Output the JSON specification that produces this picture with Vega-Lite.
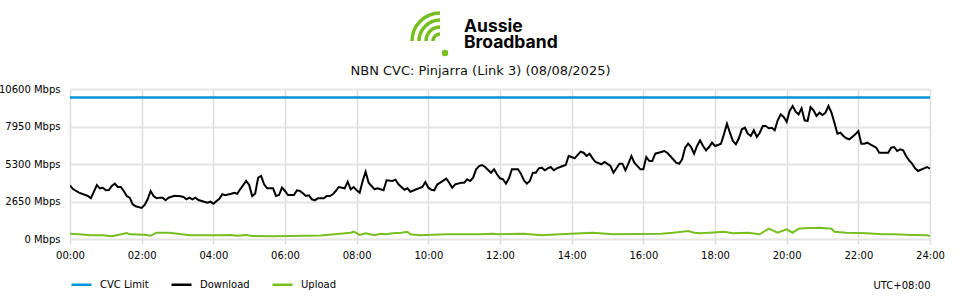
{
  "$schema": "https://vega.github.io/schema/vega-lite/v6.json",
  "width": 860,
  "height": 150,
  "autosize": {"type": "none"},
  "padding": {"left": 70, "top": 89, "right": 30, "bottom": 61},
  "background": "white",
  "config": {"view": {"stroke": null}, "font": "DejaVu Sans", "style": {"guide-label": {"lineHeight": 15.5}}},
  "data": {"values": [
    {"series":"CVC Limit","minute":0,"mbps":10000},{"series":"CVC Limit","minute":1440,"mbps":10000},
    {"series":"Download","minute":0,"mbps":3795},{"series":"Download","minute":5,"mbps":3533},{"series":"Download","minute":15,"mbps":3272},{"series":"Download","minute":30,"mbps":3039},{"series":"Download","minute":35,"mbps":2876},{"series":"Download","minute":45,"mbps":3816},{"series":"Download","minute":50,"mbps":3583},{"series":"Download","minute":55,"mbps":3625},{"series":"Download","minute":60,"mbps":3442},{"series":"Download","minute":65,"mbps":3463},{"series":"Download","minute":70,"mbps":3745},{"series":"Download","minute":75,"mbps":3908},{"series":"Download","minute":80,"mbps":3675},{"series":"Download","minute":85,"mbps":3675},{"series":"Download","minute":90,"mbps":3392},{"series":"Download","minute":95,"mbps":3039},{"series":"Download","minute":100,"mbps":2919},{"series":"Download","minute":105,"mbps":2452},{"series":"Download","minute":110,"mbps":2311},{"series":"Download","minute":120,"mbps":2191},{"series":"Download","minute":125,"mbps":2403},{"series":"Download","minute":130,"mbps":2806},{"series":"Download","minute":135,"mbps":3392},{"series":"Download","minute":140,"mbps":3039},{"series":"Download","minute":145,"mbps":2876},{"series":"Download","minute":150,"mbps":2919},{"series":"Download","minute":155,"mbps":2919},{"series":"Download","minute":160,"mbps":2735},{"series":"Download","minute":165,"mbps":2919},{"series":"Download","minute":175,"mbps":3060},{"series":"Download","minute":185,"mbps":3018},{"series":"Download","minute":190,"mbps":2968},{"series":"Download","minute":195,"mbps":2806},{"series":"Download","minute":200,"mbps":2919},{"series":"Download","minute":205,"mbps":2806},{"series":"Download","minute":210,"mbps":2919},{"series":"Download","minute":215,"mbps":2756},{"series":"Download","minute":230,"mbps":2565},{"series":"Download","minute":235,"mbps":2636},{"series":"Download","minute":240,"mbps":2495},{"series":"Download","minute":250,"mbps":2848},{"series":"Download","minute":255,"mbps":3159},{"series":"Download","minute":260,"mbps":3088},{"series":"Download","minute":270,"mbps":3201},{"series":"Download","minute":275,"mbps":3272},{"series":"Download","minute":280,"mbps":3201},{"series":"Download","minute":285,"mbps":3512},{"series":"Download","minute":295,"mbps":4099},{"series":"Download","minute":300,"mbps":3816},{"series":"Download","minute":305,"mbps":3039},{"series":"Download","minute":310,"mbps":3201},{"series":"Download","minute":315,"mbps":4332},{"series":"Download","minute":320,"mbps":4452},{"series":"Download","minute":325,"mbps":3866},{"series":"Download","minute":330,"mbps":3583},{"series":"Download","minute":340,"mbps":3583},{"series":"Download","minute":345,"mbps":3039},{"series":"Download","minute":350,"mbps":3109},{"series":"Download","minute":355,"mbps":3625},{"series":"Download","minute":360,"mbps":3392},{"series":"Download","minute":365,"mbps":3109},{"series":"Download","minute":375,"mbps":3109},{"series":"Download","minute":380,"mbps":3442},{"series":"Download","minute":385,"mbps":3392},{"series":"Download","minute":390,"mbps":3229},{"series":"Download","minute":395,"mbps":3039},{"series":"Download","minute":400,"mbps":3088},{"series":"Download","minute":405,"mbps":2806},{"series":"Download","minute":410,"mbps":2735},{"series":"Download","minute":415,"mbps":2876},{"series":"Download","minute":425,"mbps":2876},{"series":"Download","minute":430,"mbps":3039},{"series":"Download","minute":435,"mbps":3039},{"series":"Download","minute":440,"mbps":3159},{"series":"Download","minute":445,"mbps":3392},{"series":"Download","minute":450,"mbps":3675},{"series":"Download","minute":460,"mbps":3583},{"series":"Download","minute":465,"mbps":4049},{"series":"Download","minute":470,"mbps":3512},{"series":"Download","minute":475,"mbps":3675},{"series":"Download","minute":480,"mbps":3442},{"series":"Download","minute":485,"mbps":3272},{"series":"Download","minute":490,"mbps":4099},{"series":"Download","minute":495,"mbps":4756},{"series":"Download","minute":500,"mbps":3979},{"series":"Download","minute":510,"mbps":3512},{"series":"Download","minute":515,"mbps":3583},{"series":"Download","minute":520,"mbps":3512},{"series":"Download","minute":525,"mbps":3442},{"series":"Download","minute":530,"mbps":4148},{"series":"Download","minute":540,"mbps":4099},{"series":"Download","minute":545,"mbps":4191},{"series":"Download","minute":550,"mbps":3866},{"series":"Download","minute":560,"mbps":3484},{"series":"Download","minute":565,"mbps":3583},{"series":"Download","minute":570,"mbps":3343},{"series":"Download","minute":580,"mbps":3512},{"series":"Download","minute":590,"mbps":3675},{"series":"Download","minute":595,"mbps":4028},{"series":"Download","minute":600,"mbps":3625},{"series":"Download","minute":605,"mbps":3484},{"series":"Download","minute":610,"mbps":3442},{"series":"Download","minute":615,"mbps":3866},{"series":"Download","minute":620,"mbps":3979},{"series":"Download","minute":630,"mbps":4261},{"series":"Download","minute":635,"mbps":3979},{"series":"Download","minute":640,"mbps":3625},{"series":"Download","minute":645,"mbps":3866},{"series":"Download","minute":655,"mbps":3979},{"series":"Download","minute":660,"mbps":3979},{"series":"Download","minute":665,"mbps":4219},{"series":"Download","minute":670,"mbps":4099},{"series":"Download","minute":675,"mbps":4332},{"series":"Download","minute":680,"mbps":4925},{"series":"Download","minute":685,"mbps":5159},{"series":"Download","minute":690,"mbps":5229},{"series":"Download","minute":695,"mbps":5088},{"series":"Download","minute":705,"mbps":4685},{"series":"Download","minute":710,"mbps":4925},{"series":"Download","minute":715,"mbps":4572},{"series":"Download","minute":720,"mbps":4290},{"series":"Download","minute":725,"mbps":4219},{"series":"Download","minute":730,"mbps":3908},{"series":"Download","minute":735,"mbps":4290},{"series":"Download","minute":740,"mbps":4925},{"series":"Download","minute":750,"mbps":4925},{"series":"Download","minute":755,"mbps":4615},{"series":"Download","minute":760,"mbps":4148},{"series":"Download","minute":765,"mbps":3908},{"series":"Download","minute":770,"mbps":4099},{"series":"Download","minute":775,"mbps":4685},{"series":"Download","minute":780,"mbps":4685},{"series":"Download","minute":785,"mbps":4996},{"series":"Download","minute":790,"mbps":5039},{"series":"Download","minute":795,"mbps":4855},{"series":"Download","minute":800,"mbps":4996},{"series":"Download","minute":805,"mbps":5088},{"series":"Download","minute":810,"mbps":4855},{"series":"Download","minute":815,"mbps":4996},{"series":"Download","minute":825,"mbps":5159},{"series":"Download","minute":830,"mbps":5229},{"series":"Download","minute":835,"mbps":5865},{"series":"Download","minute":840,"mbps":5795},{"series":"Download","minute":845,"mbps":5703},{"series":"Download","minute":855,"mbps":6169},{"series":"Download","minute":860,"mbps":6098},{"series":"Download","minute":865,"mbps":5865},{"series":"Download","minute":870,"mbps":6028},{"series":"Download","minute":875,"mbps":5703},{"series":"Download","minute":880,"mbps":5441},{"series":"Download","minute":890,"mbps":5279},{"series":"Download","minute":895,"mbps":5441},{"series":"Download","minute":905,"mbps":5159},{"series":"Download","minute":910,"mbps":4685},{"series":"Download","minute":915,"mbps":4996},{"series":"Download","minute":920,"mbps":5321},{"series":"Download","minute":925,"mbps":5321},{"series":"Download","minute":930,"mbps":4855},{"series":"Download","minute":935,"mbps":5321},{"series":"Download","minute":940,"mbps":5865},{"series":"Download","minute":945,"mbps":5392},{"series":"Download","minute":955,"mbps":4925},{"series":"Download","minute":960,"mbps":4925},{"series":"Download","minute":965,"mbps":5795},{"series":"Download","minute":970,"mbps":5512},{"series":"Download","minute":975,"mbps":5512},{"series":"Download","minute":980,"mbps":6028},{"series":"Download","minute":990,"mbps":6148},{"series":"Download","minute":995,"mbps":6219},{"series":"Download","minute":1000,"mbps":6098},{"series":"Download","minute":1005,"mbps":5865},{"series":"Download","minute":1015,"mbps":5392},{"series":"Download","minute":1020,"mbps":5321},{"series":"Download","minute":1025,"mbps":5632},{"series":"Download","minute":1030,"mbps":6452},{"series":"Download","minute":1035,"mbps":6735},{"series":"Download","minute":1040,"mbps":6501},{"series":"Download","minute":1045,"mbps":6028},{"series":"Download","minute":1050,"mbps":6572},{"series":"Download","minute":1055,"mbps":6975},{"series":"Download","minute":1060,"mbps":6572},{"series":"Download","minute":1065,"mbps":6268},{"series":"Download","minute":1070,"mbps":6501},{"series":"Download","minute":1075,"mbps":6805},{"series":"Download","minute":1080,"mbps":6572},{"series":"Download","minute":1085,"mbps":6643},{"series":"Download","minute":1090,"mbps":6735},{"series":"Download","minute":1095,"mbps":7399},{"series":"Download","minute":1100,"mbps":8148},{"series":"Download","minute":1105,"mbps":7512},{"series":"Download","minute":1110,"mbps":6925},{"series":"Download","minute":1115,"mbps":6692},{"series":"Download","minute":1120,"mbps":7116},{"series":"Download","minute":1125,"mbps":7752},{"series":"Download","minute":1130,"mbps":7865},{"series":"Download","minute":1135,"mbps":7441},{"series":"Download","minute":1140,"mbps":7279},{"series":"Download","minute":1145,"mbps":7682},{"series":"Download","minute":1150,"mbps":7208},{"series":"Download","minute":1155,"mbps":7512},{"series":"Download","minute":1160,"mbps":7985},{"series":"Download","minute":1165,"mbps":7985},{"series":"Download","minute":1170,"mbps":7823},{"series":"Download","minute":1175,"mbps":7865},{"series":"Download","minute":1180,"mbps":7682},{"series":"Download","minute":1185,"mbps":8388},{"series":"Download","minute":1190,"mbps":8812},{"series":"Download","minute":1195,"mbps":8621},{"series":"Download","minute":1200,"mbps":8289},{"series":"Download","minute":1205,"mbps":9045},{"series":"Download","minute":1210,"mbps":9399},{"series":"Download","minute":1215,"mbps":8996},{"series":"Download","minute":1220,"mbps":8812},{"series":"Download","minute":1225,"mbps":9236},{"series":"Download","minute":1230,"mbps":8388},{"series":"Download","minute":1235,"mbps":8339},{"series":"Download","minute":1240,"mbps":9328},{"series":"Download","minute":1245,"mbps":9095},{"series":"Download","minute":1250,"mbps":8692},{"series":"Download","minute":1255,"mbps":8925},{"series":"Download","minute":1260,"mbps":8763},{"series":"Download","minute":1265,"mbps":8925},{"series":"Download","minute":1270,"mbps":9399},{"series":"Download","minute":1275,"mbps":8925},{"series":"Download","minute":1280,"mbps":8219},{"series":"Download","minute":1285,"mbps":7441},{"series":"Download","minute":1290,"mbps":7512},{"series":"Download","minute":1295,"mbps":7279},{"series":"Download","minute":1300,"mbps":7116},{"series":"Download","minute":1305,"mbps":7046},{"series":"Download","minute":1315,"mbps":7399},{"series":"Download","minute":1320,"mbps":7632},{"series":"Download","minute":1325,"mbps":6735},{"series":"Download","minute":1330,"mbps":6735},{"series":"Download","minute":1335,"mbps":6805},{"series":"Download","minute":1340,"mbps":6692},{"series":"Download","minute":1350,"mbps":6452},{"series":"Download","minute":1355,"mbps":6098},{"series":"Download","minute":1365,"mbps":6098},{"series":"Download","minute":1370,"mbps":6098},{"series":"Download","minute":1375,"mbps":6452},{"series":"Download","minute":1380,"mbps":6501},{"series":"Download","minute":1385,"mbps":6219},{"series":"Download","minute":1390,"mbps":6339},{"series":"Download","minute":1395,"mbps":6268},{"series":"Download","minute":1400,"mbps":5865},{"series":"Download","minute":1405,"mbps":5561},{"series":"Download","minute":1410,"mbps":5321},{"series":"Download","minute":1415,"mbps":4996},{"series":"Download","minute":1420,"mbps":4805},{"series":"Download","minute":1430,"mbps":4996},{"series":"Download","minute":1435,"mbps":5088},{"series":"Download","minute":1440,"mbps":4968},
    {"series":"Upload","minute":0,"mbps":375},{"series":"Upload","minute":15,"mbps":332},{"series":"Upload","minute":35,"mbps":261},{"series":"Upload","minute":55,"mbps":261},{"series":"Upload","minute":70,"mbps":191},{"series":"Upload","minute":80,"mbps":283},{"series":"Upload","minute":95,"mbps":424},{"series":"Upload","minute":100,"mbps":332},{"series":"Upload","minute":125,"mbps":304},{"series":"Upload","minute":135,"mbps":233},{"series":"Upload","minute":145,"mbps":445},{"series":"Upload","minute":165,"mbps":445},{"series":"Upload","minute":180,"mbps":375},{"series":"Upload","minute":200,"mbps":261},{"series":"Upload","minute":245,"mbps":261},{"series":"Upload","minute":270,"mbps":283},{"series":"Upload","minute":280,"mbps":233},{"series":"Upload","minute":295,"mbps":283},{"series":"Upload","minute":305,"mbps":212},{"series":"Upload","minute":340,"mbps":191},{"series":"Upload","minute":420,"mbps":240},{"series":"Upload","minute":470,"mbps":445},{"series":"Upload","minute":475,"mbps":516},{"series":"Upload","minute":485,"mbps":283},{"series":"Upload","minute":495,"mbps":403},{"series":"Upload","minute":510,"mbps":261},{"series":"Upload","minute":520,"mbps":375},{"series":"Upload","minute":530,"mbps":332},{"series":"Upload","minute":540,"mbps":403},{"series":"Upload","minute":555,"mbps":445},{"series":"Upload","minute":565,"mbps":516},{"series":"Upload","minute":570,"mbps":332},{"series":"Upload","minute":585,"mbps":261},{"series":"Upload","minute":630,"mbps":332},{"series":"Upload","minute":685,"mbps":332},{"series":"Upload","minute":710,"mbps":375},{"series":"Upload","minute":715,"mbps":332},{"series":"Upload","minute":760,"mbps":375},{"series":"Upload","minute":790,"mbps":261},{"series":"Upload","minute":820,"mbps":332},{"series":"Upload","minute":875,"mbps":445},{"series":"Upload","minute":910,"mbps":332},{"series":"Upload","minute":990,"mbps":375},{"series":"Upload","minute":1010,"mbps":445},{"series":"Upload","minute":1035,"mbps":565},{"series":"Upload","minute":1045,"mbps":445},{"series":"Upload","minute":1055,"mbps":403},{"series":"Upload","minute":1070,"mbps":445},{"series":"Upload","minute":1095,"mbps":516},{"series":"Upload","minute":1110,"mbps":403},{"series":"Upload","minute":1135,"mbps":445},{"series":"Upload","minute":1155,"mbps":332},{"series":"Upload","minute":1170,"mbps":728},{"series":"Upload","minute":1185,"mbps":445},{"series":"Upload","minute":1200,"mbps":685},{"series":"Upload","minute":1210,"mbps":445},{"series":"Upload","minute":1220,"mbps":728},{"series":"Upload","minute":1230,"mbps":756},{"series":"Upload","minute":1255,"mbps":799},{"series":"Upload","minute":1275,"mbps":728},{"series":"Upload","minute":1280,"mbps":516},{"series":"Upload","minute":1300,"mbps":445},{"series":"Upload","minute":1335,"mbps":403},{"series":"Upload","minute":1360,"mbps":332},{"series":"Upload","minute":1380,"mbps":332},{"series":"Upload","minute":1410,"mbps":283},{"series":"Upload","minute":1435,"mbps":261},{"series":"Upload","minute":1440,"mbps":212}
  ]},
  "layer": [
    {
      "transform": [{"filter": "datum.series !== 'CVC Limit'"}],
      "mark": {"type": "line", "strokeWidth": 2, "clip": true},
      "encoding": {
        "x": {"field": "minute", "type": "quantitative", "scale": {"domain": [0, 1440], "nice": false, "zero": false},
          "axis": {"values": [0,120,240,360,480,600,720,840,960,1080,1200,1320,1440], "labelExpr": "(datum.value/60<10?'0':'')+(datum.value/60)+':00'", "grid": true, "gridColor": "#dcdcdc", "gridWidth": 1.5, "domain": false, "tickColor": "#dcdcdc", "tickWidth": 1.5, "tickSize": 5, "labelPadding": 6, "labelFontSize": 10, "labelColor": "#000000", "labelFlush": false, "title": "UTC+08:00", "titleX": 860, "titleY": 46, "titleAlign": "right", "titleBaseline": "middle", "titleFontSize": 10, "titleFontWeight": "normal", "titleColor": "#000000"}},
        "y": {"field": "mbps", "type": "quantitative", "scale": {"domain": [0, 10600], "nice": false},
          "axis": {"values": [0,2650,5300,7950,10600], "labelExpr": "datum.value + ' Mbps'", "grid": true, "gridColor": "#e4e4e4", "gridWidth": 2, "domain": false, "ticks": false, "labelPadding": 10, "labelFontSize": 10, "labelColor": "#000000", "title": null}},
        "color": {"field": "series", "type": "nominal", "scale": {"domain": ["CVC Limit", "Download", "Upload"], "range": ["#0095da", "#000000", "#78be20"]},
          "legend": {"orient": "none", "legendX": 0, "legendY": 184, "direction": "horizontal", "title": null, "symbolType": "stroke", "symbolSize": 400, "symbolStrokeWidth": 2.5, "labelFontSize": 10, "labelColor": "#000000", "labelOffset": 7, "columnPadding": 17, "padding": 0}}
      }
    },
    {
      "transform": [{"filter": "datum.series === 'CVC Limit'"}],
      "mark": {"type": "line", "strokeWidth": 2.5, "clip": true},
      "encoding": {
        "x": {"field": "minute", "type": "quantitative", "scale": {"domain": [0, 1440], "nice": false, "zero": false},
          "axis": {"orient": "top", "labels": false, "ticks": false, "domain": false, "grid": false, "title": "NBN CVC: Pinjarra (Link 3) (08/08/2025)", "titleX": 410, "titleY": -19, "titleAlign": "center", "titleBaseline": "middle", "titleFontSize": 13, "titleFontWeight": "normal", "titleColor": "#111111"}},
        "y": {"field": "mbps", "type": "quantitative", "scale": {"domain": [0, 10600], "nice": false},
          "axis": {"values": [0,2650,5300,7950,10600], "labelExpr": "datum.value + ' Mbps'", "grid": true, "gridColor": "#e4e4e4", "gridWidth": 2, "domain": false, "ticks": false, "labelPadding": 10, "labelFontSize": 10, "labelColor": "#000000", "title": null}},
        "color": {"field": "series", "type": "nominal"}
      }
    },
    {
      "transform": [{"filter": "datum.series === 'CVC Limit' && datum.minute === 0"}],
      "mark": {"type": "point", "size": 0, "filled": false, "color": "#78be20", "strokeWidth": 3.5, "strokeCap": "round"},
      "encoding": {
        "shape": {"datum": "Aussie Broadband", "scale": {"range": ["M0.24,0.56 A0.28,0.28 0 0 1 0.52,0.28 M-0.04,0.56 A0.56,0.56 0 0 1 0.52,0 M-0.32,0.56 A0.84,0.84 0 0 1 0.52,-0.28 M-0.6,0.56 A1.12,1.12 0 0 1 0.52,-0.56 M0.66,1.04 A0.06,0.06 0 1 1 0.78,1.04 A0.06,0.06 0 1 1 0.66,1.04"]},
          "legend": {"orient": "none", "legendX": 330, "legendY": -89, "title": null, "symbolSize": 2500, "symbolStrokeColor": "#78be20", "symbolStrokeWidth": 3.5, "symbolFillColor": "transparent", "symbolOpacity": 1, "labelExpr": "['Aussie', 'Broadband']", "labelFont": "Inter", "labelFontSize": 17.5, "labelFontWeight": "bold", "labelColor": "#000000", "labelLimit": 200, "labelOffset": 10, "padding": 0}}
      }
    }
  ],
  "resolve": {"axis": {"x": "independent"}}
}
